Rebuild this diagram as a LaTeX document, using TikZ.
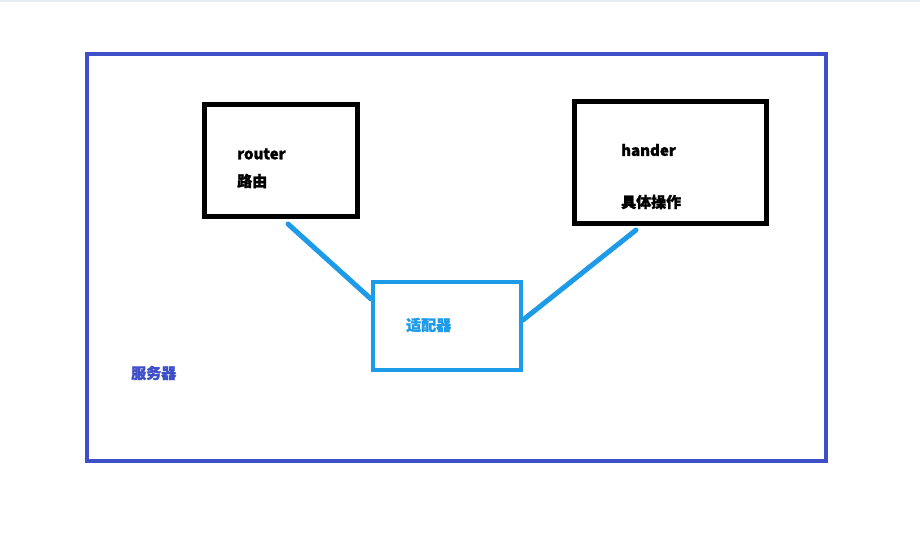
\documentclass[tikz,border=0pt]{standalone}
\usepackage{fontspec}
\setmainfont{Noto Sans CJK SC}
\newfontfamily\cjkbold{Noto Sans CJK SC}[FakeBold=1.5]
\definecolor{outerblue}{HTML}{3F4FC8}
\definecolor{adaptblue}{HTML}{1E9BE8}
\definecolor{topline}{HTML}{E6ECF4}
\begin{document}
\begin{tikzpicture}[x=1pt,y=-1pt,
  blackbox/.style={draw=black,line width=5pt},
  adaptbox/.style={draw=adaptblue,line width=4pt},
  link/.style={draw=adaptblue,line width=5pt,line cap=round},
  lbl/.style={anchor=west,inner sep=0pt,font=\fontsize{15}{18}\selectfont\bfseries}]
\useasboundingbox (0,0) rectangle (920,535);
\fill[white] (0,0) rectangle (920,535);
\draw[topline,line width=2pt] (0,1) -- (920,1);
\draw[outerblue,line width=4pt] (87,54) rectangle (826,461);
\node[blackbox,minimum width=153pt,minimum height=112pt,inner sep=0pt] (router) at (280.5,160) {};
\node[blackbox,minimum width=192pt,minimum height=122pt,inner sep=0pt] (hander) at (670,162) {};
\node[adaptbox,minimum width=148pt,minimum height=88pt,inner sep=0pt] (adapter) at (447,326) {};
\coordinate (r1) at (288,224);
\coordinate (h1) at (636,230);
\draw[link] (r1) -- (adapter.west |- 0,299);
\draw[link] (adapter.east |- 0,320) -- (h1);
\node[lbl] (t1) at (237,154) {\cjkbold router};
\node[lbl] (t2) at (237,181) {\cjkbold 路由};
\node[lbl] (t3) at (621,150) {\cjkbold hander};
\node[lbl] (t4) at (621,202) {\cjkbold 具体操作};
\node[lbl,text=adaptblue] (t5) at (406,325) {\cjkbold 适配器};
\node[lbl,text=outerblue] (t6) at (131,373) {\cjkbold 服务器};
\end{tikzpicture}
\end{document}
